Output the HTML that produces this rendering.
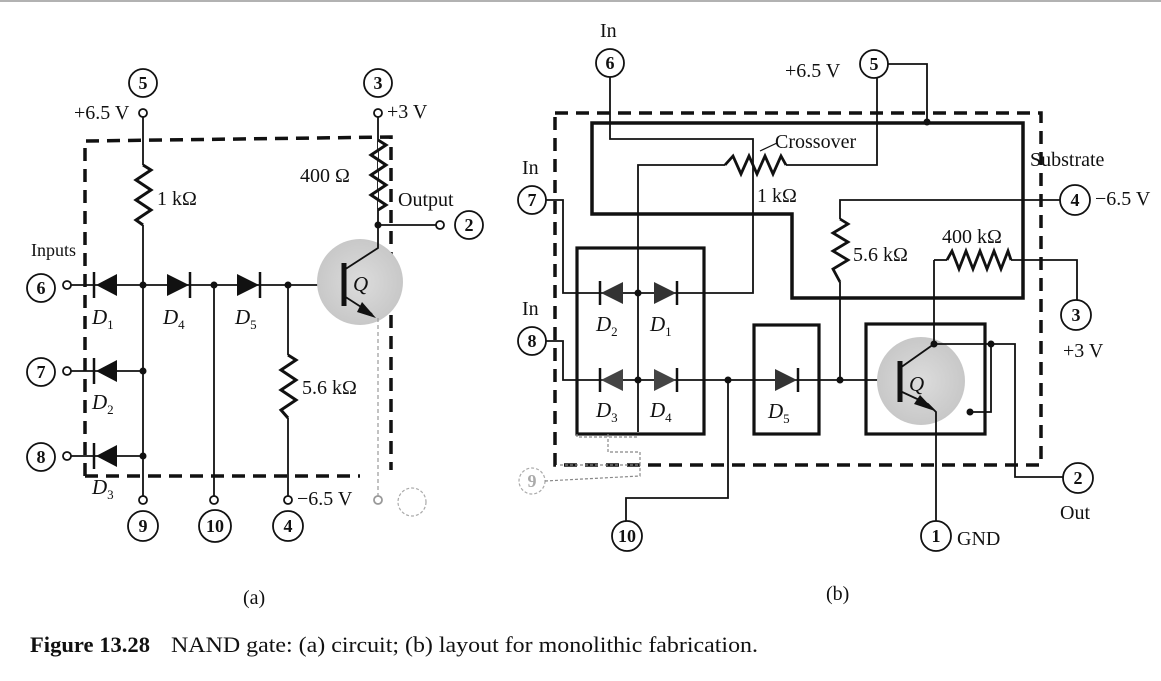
<!DOCTYPE html>
<html><head><meta charset="utf-8"><style>
html,body{margin:0;padding:0;background:#fff;}
svg{display:block;}
text{font-family:"Liberation Serif",serif;fill:#111;}
.n{font-weight:bold;font-size:18px;text-anchor:middle;}
.l{font-size:20px;}
.i{font-style:italic;font-size:21px;}
</style></head><body>
<svg width="1161" height="681" viewBox="0 0 1161 681" xmlns="http://www.w3.org/2000/svg">
<line x1="0" y1="1" x2="1161" y2="1" stroke="#999" stroke-width="1.5"/>
<defs>
<radialGradient id="g"><stop offset="0" stop-color="#dcdcdc"/><stop offset="1" stop-color="#c8c8c8"/></radialGradient>
</defs>
<g stroke="#111" stroke-width="1.8" fill="none">
<!-- ========== (a) ========== -->
<circle cx="143" cy="83" r="14"/>
<circle cx="143" cy="113" r="4" fill="#fff"/>
<line x1="143" y1="117" x2="143" y2="165"/>
<polyline points="143,165 151,170 136,180 151,190 136,200 151,210 136,220 143,225" stroke-width="3"/>
<line x1="143" y1="225" x2="143" y2="496"/>
<circle cx="143" cy="500" r="4" fill="#fff"/>
<circle cx="143" cy="526" r="15"/>
<g stroke-width="3.5" stroke-dasharray="13,8">
<polyline points="85,476 85,141 391,137 391,470"/>
<line x1="85" y1="476" x2="360" y2="476"/>
</g>
<circle cx="41" cy="288" r="14"/><circle cx="67" cy="285" r="4" fill="#fff"/>
<circle cx="41" cy="372" r="14"/><circle cx="67" cy="371" r="4" fill="#fff"/>
<circle cx="41" cy="457" r="14"/><circle cx="67" cy="456" r="4" fill="#fff"/>
<line x1="71" y1="285" x2="340" y2="285"/>
<line x1="71" y1="371" x2="143" y2="371"/>
<line x1="71" y1="456" x2="143" y2="456"/>
<line x1="94" y1="272" x2="94" y2="298" stroke-width="2.5"/>
<line x1="94" y1="358" x2="94" y2="384" stroke-width="2.5"/>
<line x1="94" y1="443" x2="94" y2="469" stroke-width="2.5"/>
<line x1="190" y1="272" x2="190" y2="298" stroke-width="2.5"/>
<line x1="260" y1="272" x2="260" y2="298" stroke-width="2.5"/>
<line x1="214" y1="285" x2="214" y2="496"/>
<circle cx="214" cy="500" r="4" fill="#fff"/>
<circle cx="215" cy="526" r="16"/>
<line x1="288" y1="285" x2="288" y2="355"/>
<polyline points="288,355 296,360 281,370 296,380 281,390 296,400 281,410 288,418" stroke-width="3"/>
<line x1="288" y1="418" x2="288" y2="496"/>
<circle cx="288" cy="500" r="4" fill="#fff"/>
<circle cx="288" cy="526" r="15"/>
<circle cx="360" cy="282" r="43" fill="url(#g)" stroke="none"/>
<line x1="344" y1="263" x2="344" y2="306" stroke-width="5"/>
<polyline points="344,270 378,248 378,115"/>
<line x1="344" y1="296" x2="372" y2="314"/>
<line x1="378" y1="318" x2="378" y2="496" stroke="#999" stroke-width="1.2" stroke-dasharray="4,3"/>
<circle cx="378" cy="500" r="4" fill="#fff" stroke="#999"/>
<circle cx="412" cy="502" r="14" stroke="#aaa" stroke-dasharray="3,2" stroke-width="1.2"/>
<circle cx="378" cy="113" r="4" fill="#fff"/>
<circle cx="378" cy="83" r="14"/>
<polyline points="378,140 386,145 371,155 386,165 371,175 386,185 371,195 386,205 378,210" stroke-width="3" fill="#fff"/>
<line x1="378" y1="225" x2="436" y2="225"/>
<circle cx="440" cy="225" r="4" fill="#fff"/>
<circle cx="469" cy="225" r="14"/>
<!-- ========== (b) ========== -->
<circle cx="610" cy="63" r="14"/>
<circle cx="874" cy="64" r="14"/>
<circle cx="532" cy="200" r="14"/>
<circle cx="532" cy="341" r="14"/>
<circle cx="532" cy="481" r="13" stroke="#aaa" stroke-dasharray="3,2" stroke-width="1.2"/>
<circle cx="627" cy="536" r="15"/>
<circle cx="936" cy="536" r="15"/>
<circle cx="1075" cy="200" r="15"/>
<circle cx="1076" cy="315" r="15"/>
<circle cx="1078" cy="478" r="15"/>
<g stroke-width="3.5" stroke-dasharray="13,8">
<rect x="555" y="113" width="486" height="352"/>
</g>
<polygon points="592,123 1023,123 1023,298 792,298 792,214 592,214" stroke-width="3.5"/>
<polyline points="888,64 927,64 927,122"/>
<polyline points="610,77 610,139 753,139 753,293 677,293"/>
<polyline points="877,78 877,165 786,165"/>
<polyline points="786,165 781,156 773,174 765,156 757,174 749,156 741,174 733,156 725,165" stroke-width="2.8"/>
<polyline points="725,165 638,165 638,432"/>
<line x1="760" y1="151" x2="777" y2="143" stroke-width="1.2"/>
<polyline points="546,200 563,200 563,293 600,293"/>
<polyline points="546,341 563,341 563,380 600,380"/>
<line x1="600" y1="380" x2="843" y2="380"/>
<line x1="677" y1="293" x2="600" y2="293"/>
<rect x="577" y="248" width="127" height="186" stroke-width="3.2"/>
<rect x="754" y="325" width="65" height="109" stroke-width="3.2"/>
<rect x="866" y="324" width="119" height="110" stroke-width="3.2"/>
<line x1="600" y1="281" x2="600" y2="305" stroke-width="2.5"/>
<line x1="677" y1="281" x2="677" y2="305" stroke-width="2.5"/>
<line x1="600" y1="368" x2="600" y2="392" stroke-width="2.5"/>
<line x1="677" y1="368" x2="677" y2="392" stroke-width="2.5"/>
<line x1="798" y1="368" x2="798" y2="392" stroke-width="2.5"/>
<polyline points="728,380 728,498 626,498 626,521"/>
<polyline points="1060,200 840,200 840,219"/>
<polyline points="840,219 848,224 833,233 848,242 833,251 848,260 833,269 840,282" stroke-width="2.8"/>
<line x1="840" y1="282" x2="840" y2="380"/>
<line x1="843" y1="380" x2="900" y2="380"/>
<circle cx="921" cy="381" r="44" fill="url(#g)" stroke="none"/>
<line x1="900" y1="361" x2="900" y2="402" stroke-width="5"/>
<polyline points="934,260 934,344 900,368"/>
<polyline points="900,391 928,404 936,412 936,521"/>
<polyline points="947,260 952,251 959,269 966,251 973,269 980,251 987,269 994,251 1001,269 1008,251 1011,260" stroke-width="2.8"/>
<line x1="934" y1="260" x2="947" y2="260"/>
<polyline points="1011,260 1077,260 1077,300"/>
<polyline points="934,344 1015,344 1015,477 1063,477"/>
<polyline points="991,344 991,412 970,412"/>
<polyline points="577,434 577,437 638,437" stroke="#888" stroke-width="1.2" stroke-dasharray="3,2"/>
<polyline points="608,434 608,452 640,452 640,465 560,465" stroke="#888" stroke-width="1.2" stroke-dasharray="3,2"/>
<polyline points="545,481 640,476 640,465" stroke="#888" stroke-width="1.2" stroke-dasharray="3,2"/>
</g>
<g fill="#111">
<polygon points="96,285 117,274 117,296"/>
<polygon points="96,371 117,360 117,382"/>
<polygon points="96,456 117,445 117,467"/>
<polygon points="189,285 167,274 167,296"/>
<polygon points="259,285 237,274 237,296"/>
<circle cx="143" cy="285" r="3.5"/><circle cx="143" cy="371" r="3.5"/><circle cx="143" cy="456" r="3.5"/>
<circle cx="214" cy="285" r="3.5"/><circle cx="288" cy="285" r="3.5"/><circle cx="378" cy="225" r="3.5"/>
<polygon points="376,318 362,302 357,312"/>
<polygon points="601,293 623,282 623,304" fill="#333"/>
<polygon points="676,293 654,282 654,304" fill="#333"/>
<polygon points="601,380 623,369 623,391" fill="#444"/>
<polygon points="676,380 654,369 654,391" fill="#444"/>
<polygon points="797,380 775,369 775,391" fill="#333"/>
<circle cx="638" cy="293" r="3.5"/><circle cx="638" cy="380" r="3.5"/>
<circle cx="728" cy="380" r="3.5"/><circle cx="840" cy="380" r="3.5"/>
<circle cx="927" cy="122" r="3.5"/><circle cx="934" cy="344" r="3.5"/>
<circle cx="991" cy="344" r="3.5"/><circle cx="970" cy="412" r="3.5"/>
<polygon points="935,411 920,395 914,404"/>
</g>
<text class="n" x="143" y="89">5</text>
<text class="n" x="378" y="89">3</text>
<text class="n" x="469" y="231">2</text>
<text class="n" x="41" y="294">6</text>
<text class="n" x="41" y="378">7</text>
<text class="n" x="41" y="463">8</text>
<text class="n" x="143" y="532">9</text>
<text class="n" x="215" y="532">10</text>
<text class="n" x="288" y="532">4</text>
<text class="l" x="74" y="119">+6.5 V</text>
<text class="l" x="387" y="118">+3 V</text>
<text class="l" x="157" y="205">1 kΩ</text>
<text class="l" x="300" y="182">400 Ω</text>
<text class="l" x="398" y="206">Output</text>
<text class="l" x="31" y="256" style="font-size:18px">Inputs</text>
<text class="l" x="302" y="394">5.6 kΩ</text>
<text class="l" x="297" y="505">−6.5 V</text>
<text class="i" x="92" y="324">D<tspan font-size="13" dy="5" font-style="normal">1</tspan></text>
<text class="i" x="163" y="324">D<tspan font-size="13" dy="5" font-style="normal">4</tspan></text>
<text class="i" x="235" y="324">D<tspan font-size="13" dy="5" font-style="normal">5</tspan></text>
<text class="i" x="92" y="409">D<tspan font-size="13" dy="5" font-style="normal">2</tspan></text>
<text class="i" x="92" y="494">D<tspan font-size="13" dy="5" font-style="normal">3</tspan></text>
<text class="i" x="353" y="291">Q</text>
<text class="l" x="600" y="37">In</text>
<text class="l" x="522" y="174">In</text>
<text class="l" x="522" y="315">In</text>
<text class="n" x="610" y="69">6</text>
<text class="n" x="874" y="70">5</text>
<text class="n" x="532" y="206">7</text>
<text class="n" x="532" y="347">8</text>
<text class="n" x="532" y="487" style="fill:#aaa">9</text>
<text class="n" x="627" y="542">10</text>
<text class="n" x="936" y="542">1</text>
<text class="n" x="1075" y="206">4</text>
<text class="n" x="1076" y="321">3</text>
<text class="n" x="1078" y="484">2</text>
<text class="l" x="785" y="77">+6.5 V</text>
<text class="l" x="775" y="148">Crossover</text>
<text class="l" x="757" y="202">1 kΩ</text>
<text class="l" x="1030" y="166">Substrate</text>
<text class="l" x="1095" y="205">−6.5 V</text>
<text class="l" x="942" y="243">400 kΩ</text>
<text class="l" x="853" y="261">5.6 kΩ</text>
<text class="l" x="1063" y="357">+3 V</text>
<text class="l" x="1060" y="519">Out</text>
<text class="l" x="957" y="545">GND</text>
<text class="i" x="596" y="331">D<tspan font-size="13" dy="5" font-style="normal">2</tspan></text>
<text class="i" x="650" y="331">D<tspan font-size="13" dy="5" font-style="normal">1</tspan></text>
<text class="i" x="596" y="417">D<tspan font-size="13" dy="5" font-style="normal">3</tspan></text>
<text class="i" x="650" y="417">D<tspan font-size="13" dy="5" font-style="normal">4</tspan></text>
<text class="i" x="768" y="418">D<tspan font-size="13" dy="5" font-style="normal">5</tspan></text>
<text class="i" x="909" y="391">Q</text>
<text class="l" x="243" y="604">(a)</text>
<text class="l" x="826" y="600">(b)</text>
<text x="30" y="652" style="font-size:22px;font-weight:bold" textLength="120" lengthAdjust="spacingAndGlyphs">Figure 13.28</text>
<text x="171" y="652" style="font-size:22px" textLength="587" lengthAdjust="spacingAndGlyphs">NAND gate: (a) circuit; (b) layout for monolithic fabrication.</text>
</svg>
</body></html>
